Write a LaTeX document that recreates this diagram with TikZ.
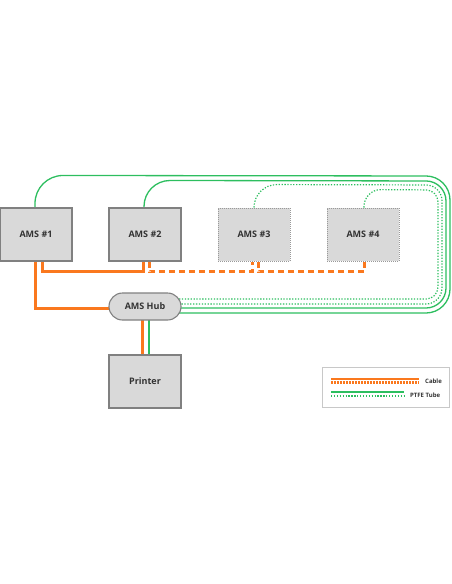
\documentclass[tikz,border=0pt]{standalone}
\usepackage{fontspec}
\setmainfont{Open Sans}
\usetikzlibrary{backgrounds,calc}
\definecolor{cab}{RGB}{250,120,30}
\definecolor{tube}{RGB}{45,190,95}
\definecolor{boxfill}{RGB}{217,217,217}
\definecolor{boxline}{RGB}{128,128,128}
\definecolor{txt}{RGB}{51,51,51}
\definecolor{legline}{RGB}{200,200,200}
\tikzset{
  amsbox/.style={draw=boxline, fill=boxfill, line width=1.1pt, minimum width=72pt, minimum height=53pt, inner sep=0pt, font=\bfseries\fontsize{9}{10}\selectfont, text=txt},
  amsdot/.style={amsbox, draw=boxline!80, line width=1pt, dash pattern=on 1pt off 1pt},
  hubbox/.style={draw=boxline, fill=boxfill, line width=1.1pt, minimum width=72pt, minimum height=27pt, inner sep=0pt, rounded corners=13.5pt, font=\bfseries\fontsize{9}{10}\selectfont, text=txt},
  cable/.style={draw=cab, line width=3pt},
  cabledash/.style={draw=cab, line width=3pt, dash pattern=on 6pt off 4pt},
  ptfe/.style={draw=tube, line width=1.3pt},
  ptfedot/.style={draw=tube, line width=1.2pt, dash pattern=on 1.3pt off 1.6pt},
  legtext/.style={font=\bfseries\fontsize{6}{7}\selectfont, text=txt, inner sep=0pt, anchor=west}
}
\begin{document}
\begin{tikzpicture}[x=1pt,y=-1pt]
\useasboundingbox (0,0) rectangle (452,584);
\node[amsbox] (ams1) at (36,234.5) {AMS \#1};
\node[amsbox] (ams2) at (145,234.5) {AMS \#2};
\node[amsdot] (ams3) at (254,234.5) {AMS \#3};
\node[amsdot] (ams4) at (363,234.5) {AMS \#4};
\node[hubbox] (hub) at (145,306.5) {AMS Hub};
\node[amsbox] (printer) at (145,381.5) {Printer};
\node[draw=legline, line width=0.8pt, minimum width=127pt, minimum height=40pt, inner sep=0pt] (legend) at (385.5,387) {};
\node[legtext] (lcable) at (425,381) {Cable};
\node[legtext] (lptfe) at (410,395) {PTFE Tube};
\begin{scope}[on background layer]
% PTFE tubes
\draw[ptfe] ([xshift=-1pt]ams1.north) [rounded corners=28pt] -- ++(0,-32) [rounded corners=24pt] -- (450,176) -- (450,313) -- (hub.center |- 0,313);
\draw[ptfe] ([xshift=-1pt]ams2.north) [rounded corners=26pt] -- ++(0,-27) [rounded corners=20pt] -- (446,181) -- (446,308) -- (hub.center |- 0,308);
\draw[ptfedot] (ams3.north) [rounded corners=23pt] -- ++(0,-23) [rounded corners=16pt] -- (442,185) -- (442,304) -- (hub.center |- 0,304);
\draw[ptfedot] ([xshift=1pt]ams4.north) [rounded corners=17pt] -- ++(0,-18) [rounded corners=12pt] -- (438,190) -- (438,299) -- (hub.center |- 0,299);
\draw[ptfe] ([xshift=4pt]hub.center) -- ([xshift=4pt]printer.center);
% cables
\draw[cable] ([xshift=-1pt]ams1.south) |- (hub.center |- 0,308);
\draw[cable] ([xshift=6pt]ams1.south) -- ++(0,10) -| ([xshift=-2pt]ams2.south);
\draw[cabledash] ([xshift=4pt]ams2.south) -- ++(0,10) -| ([xshift=-2pt]ams3.south);
\draw[cabledash] ([xshift=4pt]ams3.south) -- ++(0,10) -| ([xshift=1pt]ams4.south);
\draw[cable] ([xshift=-3pt]hub.center) -- ([xshift=-3pt]printer.center);
\end{scope}
% legend samples
\coordinate (c1) at (331,379);
\coordinate (c2) at (419,379);
\draw[cable, line width=2.5pt] (c1) -- (c2);
\draw[cab, line width=2.5pt, dash pattern=on 1.5pt off 1.5pt] ($(c1)+(0,3.5)$) -- ($(c2)+(0,3.5)$);
\coordinate (t1) at (331,392);
\coordinate (t2) at (404,392);
\draw[ptfe] (t1) -- (t2);
\draw[ptfedot] ($(t1)+(0,4)$) -- ($(t2)+(0,4)$);
\end{tikzpicture}
\end{document}
